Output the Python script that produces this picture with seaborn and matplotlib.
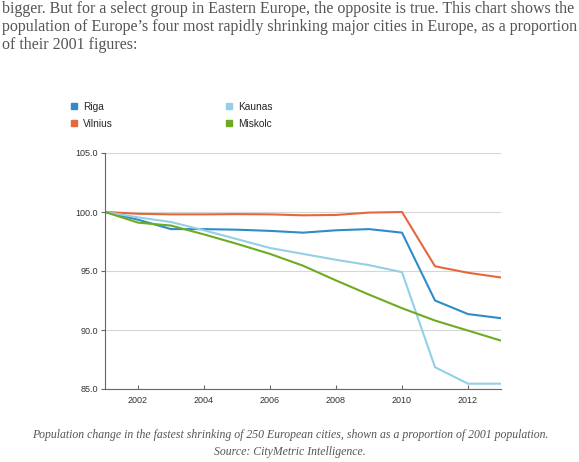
import matplotlib
matplotlib.use("Agg")
import matplotlib.pyplot as plt
from matplotlib.lines import Line2D
import seaborn as sns
import pandas as pd

years = list(range(2001, 2014))
riga = [100.0, 99.35, 98.55, 98.55, 98.5, 98.4, 98.25, 98.45, 98.55, 98.25, 92.5, 91.35, 91.0]
vilnius = [100.0, 99.85, 99.8, 99.8, 99.82, 99.8, 99.72, 99.75, 99.95, 100.0, 95.4, 94.85, 94.45]
kaunas = [100.0, 99.55, 99.15, 98.45, 97.7, 96.95, 96.45, 95.95, 95.5, 94.9, 86.85, 85.45, 85.45]
miskolc = [100.0, 99.1, 98.85, 98.1, 97.3, 96.45, 95.45, 94.2, 93.0, 91.85, 90.8, 89.95, 89.1]

cities = ["Riga", "Vilnius", "Kaunas", "Miskolc"]
colors = {"Riga": "#2f8cc9", "Vilnius": "#e4683c", "Kaunas": "#93d0e8", "Miskolc": "#6fab22"}

rows = []
for name, vals in zip(cities, [riga, vilnius, kaunas, miskolc]):
    for y, v in zip(years, vals):
        rows.append({"year": y, "city": name, "value": v})
df = pd.DataFrame(rows)

sns.set_style("white")
plt.rcParams["font.family"] = ["Liberation Sans", "DejaVu Sans"]

fig = plt.figure(figsize=(5.79, 4.62), dpi=100)
ax = fig.add_axes([105 / 579, 1 - 389 / 462, 396 / 579, 236 / 462])

sns.lineplot(data=df, x="year", y="value", hue="city", palette=colors,
             hue_order=cities, linewidth=1.5, legend=False, ax=ax)

ax.set_xlim(2001, 2013)
ax.set_ylim(85, 105)
ax.set_yticks([85, 90, 95, 100, 105])
ax.set_yticklabels(["85.0", "90.0", "95.0", "100.0", "105.0"])
ax.set_xticks([2002, 2004, 2006, 2008, 2010, 2012])
ax.set_xlabel("")
ax.set_ylabel("")
ax.grid(axis="y", color="#d6d6d6", linewidth=0.8)
ax.set_axisbelow(True)
for s in ["top", "right"]:
    ax.spines[s].set_visible(False)
for s in ["left", "bottom"]:
    ax.spines[s].set_color("#666666")
    ax.spines[s].set_linewidth(0.8)
ax.tick_params(axis="y", direction="out", length=3, color="#666666", labelsize=6.5,
               labelcolor="#333333", pad=2, left=True)
ax.tick_params(axis="x", direction="in", length=3, color="#666666", labelsize=6.5,
               labelcolor="#333333", pad=5, bottom=True)

handles = [Line2D([], [], marker="s", linestyle="", color=colors[c], markersize=4.5) for c in cities]
fig.legend(handles, cities, ncol=2, loc="upper left", bbox_to_anchor=(70 / 579, 1 - 102 / 462),
           frameon=False, fontsize=7.3, handlelength=0.8, handletextpad=0.5,
           columnspacing=11.0, labelspacing=0.65, borderaxespad=0, borderpad=0)

header = ("bigger. But for a select group in Eastern Europe, the opposite is true. This chart shows the\n"
          "population of Europe\u2019s four most rapidly shrinking major cities in Europe, as a proportion\n"
          "of their 2001 figures:")
fig.text(2 / 579, 1 - 1 / 462, header, ha="left", va="top", fontsize=11.5,
         family=["Liberation Serif", "DejaVu Serif"], color="#555555", linespacing=1.18)

caption = ("Population change in the fastest shrinking of 250 European cities, shown as a proportion of 2001 population.\n"
           "Source: CityMetric Intelligence.")
fig.text(290 / 579, 1 - 429 / 462, caption, ha="center", va="top", fontsize=8.5,
         family=["Liberation Serif", "DejaVu Serif"], style="italic", color="#555555",
         linespacing=1.5)

fig.savefig("out.png", dpi=100)
